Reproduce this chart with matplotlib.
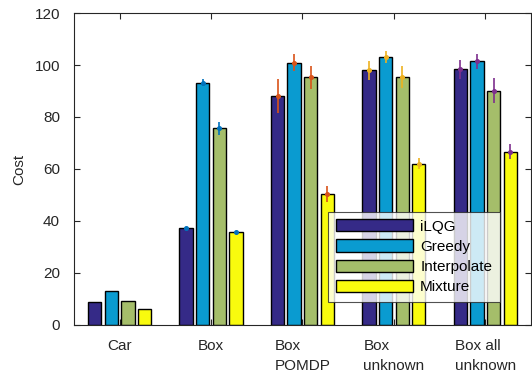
import numpy as np
import matplotlib
matplotlib.use("Agg")
import matplotlib.pyplot as plt

plt.rcParams['font.family'] = ['Liberation Sans', 'DejaVu Sans']

categories = ["Car", "Box", "Box\nPOMDP", "Box\nunknown", "Box all\nunknown"]
series = ["iLQG", "Greedy", "Interpolate", "Mixture"]
values = {
    "iLQG":        [9.0, 37.2, 88.1, 98.0, 98.3],
    "Greedy":      [13.2, 93.2, 100.9, 103.0, 101.4],
    "Interpolate": [9.2, 75.6, 95.3, 95.5, 90.1],
    "Mixture":     [6.3, 35.9, 50.3, 62.0, 66.7],
}
errors = {
    "iLQG":        [np.nan, 0.4, 6.5, 3.7, 3.7],
    "Greedy":      [np.nan, 1.3, 3.3, 2.2, 3.0],
    "Interpolate": [np.nan, 2.5, 4.5, 4.3, 4.8],
    "Mixture":     [np.nan, 0.4, 3.1, 2.1, 2.8],
}
bar_colors = ["#352A87", "#0A9BD0", "#A5BE6A", "#F9FB0E"]
err_colors = [None, "#0072BD", "#D95319", "#EDB120", "#7E2F8E"]

fig = plt.figure(figsize=(5.32, 3.77), dpi=100)
ax = fig.add_axes([0.139, 0.138, 0.859, 0.8275])

x = np.arange(1, len(categories) + 1)
ng = len(series)
groupwidth = min(0.8, ng / (ng + 1.5))
pitch = groupwidth / ng
bw = pitch * 0.8
for i, s in enumerate(series):
    xs = x + (i - (ng - 1) / 2) * pitch
    ax.bar(xs, values[s], width=bw, color=bar_colors[i], edgecolor='black',
           linewidth=1.0, label=s, zorder=2)
    for j in range(len(categories)):
        e = errors[s][j]
        if np.isnan(e):
            continue
        ax.errorbar(xs[j], values[s][j], yerr=e, fmt='o', ms=2.6,
                    color=err_colors[j], elinewidth=1.2, capsize=0, zorder=3)

ax.set_xlim(0.5, 5.5)
ax.set_ylim(0, 120)
ax.set_yticks(np.arange(0, 121, 20))
ax.set_xticks(x)
ax.set_xticklabels(categories, multialignment='left', linespacing=1.55)
ax.tick_params(direction='in', length=4, width=0.8, colors='#262626',
               labelsize=11, top=True, right=True)
ax.tick_params(axis='y', pad=10)
ax.tick_params(axis='x', pad=10)
for sp in ax.spines.values():
    sp.set_color('#262626')
    sp.set_linewidth(0.8)
ax.set_ylabel("Cost", fontsize=11, color='#262626', labelpad=6)

leg = ax.legend(loc='lower left', bbox_to_anchor=(0.557, 0.074), fontsize=11,
                handlelength=5.0, handleheight=0.85, labelspacing=0.38,
                borderpad=0.5, handletextpad=0.5, borderaxespad=0,
                frameon=True, fancybox=False)
leg.get_frame().set_edgecolor('#262626')
leg.get_frame().set_linewidth(0.8)

fig.savefig("out.png", dpi=100)
